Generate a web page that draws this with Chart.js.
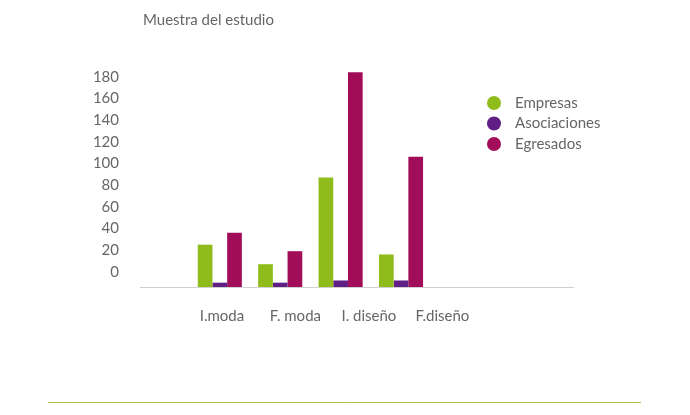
<!DOCTYPE html>
<html>
<head>
<meta charset="utf-8">
<script src="https://cdn.jsdelivr.net/npm/chart.js@4/dist/chart.umd.min.js"></script>
<style>
  body { margin: 0; background: #fff; }
  #wrap { width: 690px; height: 415px; position: relative; }
</style>
</head>
<body>
<div id="wrap"><canvas id="chart" width="690" height="415"></canvas></div>
<script>
const categories = ['I.moda', 'F. moda', 'I. diseño', 'F.diseño'];
const empresas = [39, 21, 101, 30];
const asociaciones = [4, 4, 6, 6];
const egresados = [50, 33, 198, 120];
const yTicks = [0, 20, 40, 60, 80, 100, 120, 140, 160, 180];

const fontFam = 'Lato, "Open Sans", sans-serif';
const grey = '#666';

const toPoints = arr => arr.map((v, i) => ({ x: i, y: v }));

// title, legend and bottom rule drawn by hand
const decor = {
    id: 'decor',
    afterDraw(chart) {
        const ctx = chart.ctx;
        ctx.save();
        ctx.fillStyle = grey;
        ctx.font = '15px ' + fontFam;
        ctx.textBaseline = 'middle';
        ctx.fillText('Muestra del estudio', 143, 20);
        chart.data.datasets.forEach((ds, i) => {
            const y = 103 + i * 20.5;
            ctx.beginPath();
            ctx.fillStyle = ds.backgroundColor;
            ctx.arc(494, y, 7, 0, Math.PI * 2);
            ctx.fill();
            ctx.fillStyle = grey;
            ctx.fillText(ds.label, 515, y);
        });
        ctx.strokeStyle = '#a9c94a';
        ctx.lineWidth = 1;
        ctx.beginPath();
        ctx.moveTo(48, 402.5);
        ctx.lineTo(641, 402.5);
        ctx.stroke();
        ctx.restore();
    }
};

new Chart(document.getElementById('chart').getContext('2d'), {
    type: 'bar',
    data: {
        datasets: [
            { label: 'Empresas', data: toPoints(empresas), backgroundColor: '#8fbc1a' },
            { label: 'Asociaciones', data: toPoints(asociaciones), backgroundColor: '#5f1f85' },
            { label: 'Egresados', data: toPoints(egresados), backgroundColor: '#a10d59' }
        ]
    },
    options: {
        responsive: false,
        animation: false,
        devicePixelRatio: 1,
        layout: { padding: { left: 0, right: 117, top: 70, bottom: 88 } },
        datasets: { bar: { barPercentage: 1, categoryPercentage: 0.73 } },
        scales: {
            x: {
                type: 'linear',
                display: false,
                min: -0.724,
                max: 5.25
            },
            x2: {
                type: 'linear',
                position: 'bottom',
                min: -0.378,
                max: 4.04,
                grid: { display: false },
                border: { color: '#d0d0d0' },
                afterBuildTicks: s => { s.ticks = categories.map((c, i) => ({ value: i })); },
                afterFit: s => { s.height = 40; },
                ticks: {
                    padding: 12,
                    autoSkip: false,
                    maxRotation: 0,
                    color: grey,
                    font: { family: fontFam, size: 15 },
                    callback: v => categories[v] ?? ''
                }
            },
            y: {
                min: 0,
                max: 200,
                grid: { display: false },
                border: { display: false },
                afterBuildTicks: s => { s.ticks = yTicks.map(v => ({ value: v })); },
                afterFit: s => { s.width = 140; },
                ticks: {
                    padding: 13,
                    labelOffset: -15,
                    color: grey,
                    font: { family: fontFam, size: 15 }
                }
            }
        },
        plugins: {
            legend: { display: false },
            tooltip: { enabled: false }
        }
    },
    plugins: [decor]
});
</script>
</body>
</html>
